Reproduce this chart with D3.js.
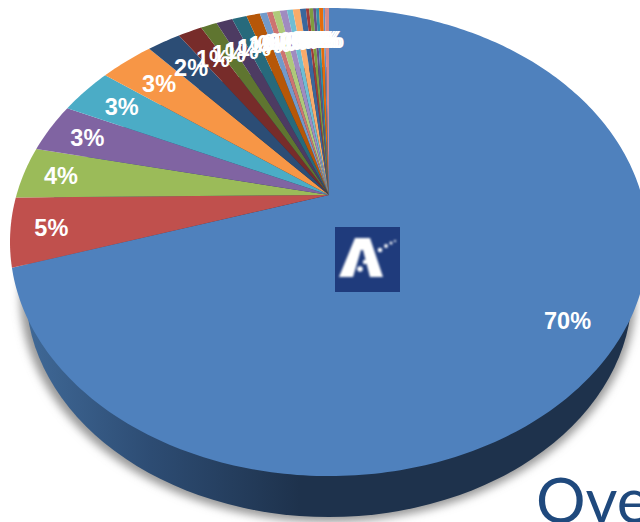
<!DOCTYPE html>
<html>
<head>
<meta charset="utf-8">
<style>
  html, body { margin: 0; padding: 0; background: #fff; overflow: hidden; }
  .label { font-family: "Liberation Sans", Arial, sans-serif; font-weight: bold; font-size: 23.5px; fill: #fff; text-anchor: middle; }
  .caption { font-family: Lato, "Open Sans", sans-serif; font-size: 62px; fill: #1f497d; }
</style>
<script src="https://cdn.jsdelivr.net/npm/d3@7"></script>
</head>
<body>
<div id="chart"></div>
<script>
// share of each slice in percent, clockwise from 12 o'clock
const values = [70.05, 4.75, 3.6, 3.45, 3.3, 3.3, 2.05, 1.47, 1, 1, 0.9, 0.83, 0.44, 0.36, 0.44, 0.44, 0.36, 0.44, 0.36, 0.2, 0.24, 0.18, 0.19, 0.25, 0.11, 0.25];
const colors = ["#4f81bd", "#c0504d", "#9bbb59", "#8064a2", "#4bacc6", "#f79646", "#2c4d75", "#772c2a", "#5f7530", "#4d3b62", "#276a7c", "#b65708", "#729aca", "#cd7371", "#afc97a", "#a08bc0", "#6fbdd3", "#f9ab6b", "#3a679c", "#9f3b38", "#7e9c40", "#664f83", "#358ea6", "#e46c0a", "#5f8fc9", "#d68a88"];

const width = 640, height = 522;
const svg = d3.select("#chart").append("svg").attr("width", width).attr("height", height).style("display", "block");

// Step 1: perspective of the pie top, apex at (cx, cy)
const cx = 329, cy = 195;
const k = 0.2009, a = 312.5, b = 224.6;
const project = (angle, r) => {
  const x = r * Math.sin(angle), y = -r * Math.cos(angle), w = 1 - k * y;
  return [cx + a * x / w, cy + b * y / w];
};

const pie = d3.pie().sort(null).value(d => d);
const arcs = pie(values);
const line = d3.line();

const slicePath = d => {
  const n = Math.max(2, Math.ceil((d.endAngle - d.startAngle) * 60));
  const rim = d3.range(n + 1).map(i => project(d.startAngle + (d.endAngle - d.startAngle) * i / n, 1));
  return line([[cx, cy], ...rim]) + "Z";
};

// Step 2: defs, shadow blur and side gradient
const defs = svg.append("defs");
defs.append("filter").attr("id", "soft").attr("x", "-10%").attr("y", "-10%").attr("width", "120%").attr("height", "120%")
  .append("feGaussianBlur").attr("stdDeviation", 4);
defs.append("filter").attr("id", "logoBlur").append("feGaussianBlur").attr("stdDeviation", 0.8);
const grad = defs.append("linearGradient").attr("id", "side").attr("gradientUnits", "userSpaceOnUse")
  .attr("x1", 30).attr("x2", 300).attr("y1", 0).attr("y2", 0);
grad.append("stop").attr("offset", "0%").attr("stop-color", "#3f6896");
grad.append("stop").attr("offset", "45%").attr("stop-color", "#2d4c73");
grad.append("stop").attr("offset", "100%").attr("stop-color", "#1e324c");

// Step 3: base of the pie (extrusion), its shadow first
const baseCy = 292, baseRx = 303, baseRy = 225;
svg.append("ellipse").attr("cx", cx - 1).attr("cy", baseCy + 3).attr("rx", baseRx + 5).attr("ry", baseRy + 2)
  .attr("fill", "#9a9a9a").attr("filter", "url(#soft)");
svg.append("ellipse").attr("cx", cx).attr("cy", baseCy).attr("rx", baseRx).attr("ry", baseRy)
  .attr("fill", "url(#side)");

// Step 4: slices
svg.selectAll(".slice").data(arcs).enter().append("path")
  .attr("class", "slice")
  .attr("d", slicePath)
  .attr("fill", (d, i) => colors[i]);

// Step 5: labels, further out at the sides than at the top, the big slice further in
const labelRadius = angle => 0.81 + 0.07 * Math.pow(Math.abs(Math.sin(angle)), 6);
svg.selectAll(".label").data(arcs).enter().append("text")
  .attr("class", "label")
  .attr("transform", (d, i) => {
    const mid = (d.startAngle + d.endAngle) / 2;
    const p = project(mid, i === 0 ? 0.85 : labelRadius(mid));
    return `translate(${p[0]}, ${p[1] + 9})`;
  })
  .text(d => `${Math.round(d.value)}%`);

// Step 6: logo
const logo = svg.append("g").attr("transform", "translate(335, 227)");
logo.append("rect").attr("width", 65).attr("height", 65).attr("fill", "#1f3b7c");
const mark = logo.append("g").attr("filter", "url(#logoBlur)").attr("fill", "#fff");
mark.append("path").attr("d", "M4 50 L20 11 L35 11 L48 50 L35 50 L28 23 L26 23 L18 50 Z");
[[25, 42, 2.8], [30, 35, 2.2], [45, 23, 2.3], [51, 19, 1.9], [56, 16, 1.5], [60, 14, 1.1]].forEach(c => {
  mark.append("circle").attr("cx", c[0]).attr("cy", c[1]).attr("r", c[2]);
});

// Step 7: cut off slide text
svg.append("text").attr("class", "caption").attr("x", 536).attr("y", 523).text("Ove");
svg.append("text").attr("class", "caption").attr("x", -19).attr("y", 520).style("font-size", "40px").text("s");
</script>
</body>
</html>
